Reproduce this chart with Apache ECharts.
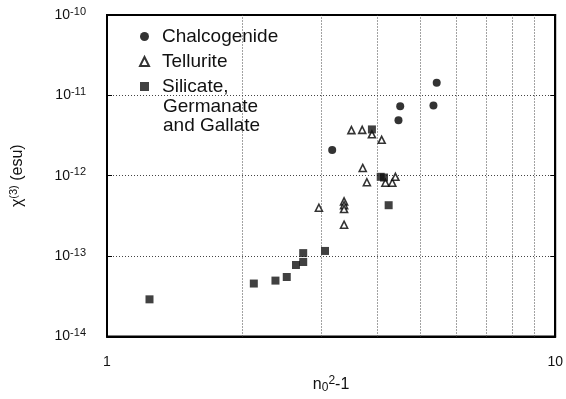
<!DOCTYPE html>
<html>
<head>
<meta charset="utf-8">
<script src="https://cdn.jsdelivr.net/npm/echarts@6/dist/echarts.min.js"></script>
<style>
  html, body { margin: 0; padding: 0; background: #fff; }
  #chart { width: 566px; height: 399px; }
</style>
</head>
<body>
<div id="chart"></div>
<script>
// n0^2-1 vs chi(3) (esu)
var chalcogenide = [
  [3.18, 2.09e-12], [4.47, 4.9e-12], [4.51, 7.3e-12], [5.35, 7.5e-12], [5.44, 1.44e-11]
];
var tellurite = [
  [2.97, 4.0e-13], [3.38, 4.8e-13], [3.38, 4.3e-13], [3.38, 3.85e-13], [3.38, 2.46e-13],
  [3.51, 3.7e-12], [3.71, 3.72e-12], [3.90, 3.28e-12], [4.10, 2.8e-12],
  [3.72, 1.25e-12], [3.80, 8.3e-13], [4.18, 8.2e-13], [4.33, 8.2e-13], [4.40, 9.7e-13]
];
var silicate = [
  [1.244, 2.9e-14], [2.126, 4.56e-14], [2.376, 4.96e-14], [2.518, 5.5e-14],
  [2.64, 7.76e-14], [2.74, 8.45e-14], [2.74, 1.09e-13], [3.065, 1.16e-13],
  [4.25, 4.3e-13], [4.08, 9.7e-13], [4.15, 9.5e-13], [3.90, 3.77e-12]
];
var xGridValues = [2, 3, 4, 5, 6, 7, 8, 9];
var seriesNames = ['Chalcogenide', 'Tellurite', 'Silicate,'];

var FONT = '"Liberation Sans", Arial, sans-serif';

var chart = echarts.init(document.getElementById('chart'));

function axisBase(pos) {
  return {
    type: 'log',
    logBase: 10,
    position: pos,
    axisLine: { show: true, onZero: false, lineStyle: { color: '#000', width: 2 } },
    axisTick: { show: true, inside: true, length: 5, lineStyle: { color: '#000' } },
    splitLine: { show: false },
    axisLabel: { show: false }
  };
}

var xMain = axisBase('bottom');
xMain.min = 1; xMain.max = 10;
xMain.axisLabel = { show: true, margin: 19, fontSize: 14, fontFamily: FONT, color: '#111' };
xMain.name = '{a|n}{sub|0}{sup|2}{a|-1}';
xMain.nameLocation = 'middle';
xMain.nameGap = 38;
xMain.nameTextStyle = {
  fontFamily: FONT, color: '#111',
  rich: {
    a: { fontSize: 16, fontFamily: FONT, color: '#111' },
    sub: { fontSize: 12, fontFamily: FONT, color: '#111', padding: [7, 0, 0, 0] },
    sup: { fontSize: 12, fontFamily: FONT, color: '#111', padding: [0, 0, 8, 0] }
  }
};
var xTop = axisBase('top');
xTop.min = 1; xTop.max = 10;

var yMain = axisBase('left');
yMain.min = 1e-14; yMain.max = 1e-10;
yMain.splitLine = { show: true, lineStyle: { color: '#444', type: [1, 2], width: 1 } };
yMain.axisLabel = {
  show: true, margin: 21,
  formatter: function (v) {
    return '{b|10}{s|' + Math.round(Math.log10(v)) + '}';
  },
  rich: {
    b: { fontSize: 14, fontFamily: FONT, color: '#111' },
    s: { fontSize: 11, fontFamily: FONT, color: '#111', padding: [0, 0, 7, 0] }
  }
};
yMain.name = '{a|χ}{s|(3)}{a| (esu)}';
yMain.nameLocation = 'middle';
yMain.nameRotate = 90;
yMain.nameGap = 80;
yMain.nameTextStyle = {
  fontFamily: FONT, color: '#111',
  rich: {
    a: { fontSize: 16, fontFamily: FONT, color: '#111' },
    s: { fontSize: 11, fontFamily: FONT, color: '#111', padding: [0, 0, 8, 0] }
  }
};
var yRight = axisBase('right');
yRight.min = 1e-14; yRight.max = 1e-10;

chart.setOption({
  backgroundColor: '#fff',
  animation: false,
  grid: { left: 106, top: 15, right: 3, bottom: 56, containLabel: false,
          show: true, borderColor: '#000', borderWidth: 2, backgroundColor: 'transparent' },
  xAxis: [xMain, xTop],
  yAxis: [yMain, yRight],
  legend: {
    orient: 'vertical',
    left: 139,
    top: 27,
    padding: 0,
    itemWidth: 9,
    itemHeight: 9,
    itemGap: 6,
    data: seriesNames,
    textStyle: { fontSize: 19, fontFamily: FONT, color: '#111', padding: [0, 0, 0, 8] }
  },
  graphic: [
    { type: 'text', x: 163, y: 107, style: { text: 'Germanate', font: '19px ' + FONT, fill: '#111', verticalAlign: 'middle' } },
    { type: 'text', x: 163, y: 126, style: { text: 'and Gallate', font: '19px ' + FONT, fill: '#111', verticalAlign: 'middle' } }
  ],
  series: [
    {
      name: seriesNames[0], type: 'scatter', data: chalcogenide,
      symbol: 'circle', symbolSize: 8,
      itemStyle: { color: '#000' },
      markLine: {
        silent: true, symbol: 'none', label: { show: false },
        lineStyle: { color: '#444', type: [1, 2], width: 1 },
        data: xGridValues.map(function (v) { return { xAxis: v }; })
      }
    },
    {
      name: seriesNames[1], type: 'scatter', data: tellurite,
      symbol: 'triangle', symbolSize: 7,
      itemStyle: { color: '#fff', borderColor: '#000', borderWidth: 1.6 }
    },
    {
      name: seriesNames[2], type: 'scatter', data: silicate,
      symbol: 'rect', symbolSize: 8,
      itemStyle: { color: '#111' }
    }
  ]
});
</script>
</body>
</html>
